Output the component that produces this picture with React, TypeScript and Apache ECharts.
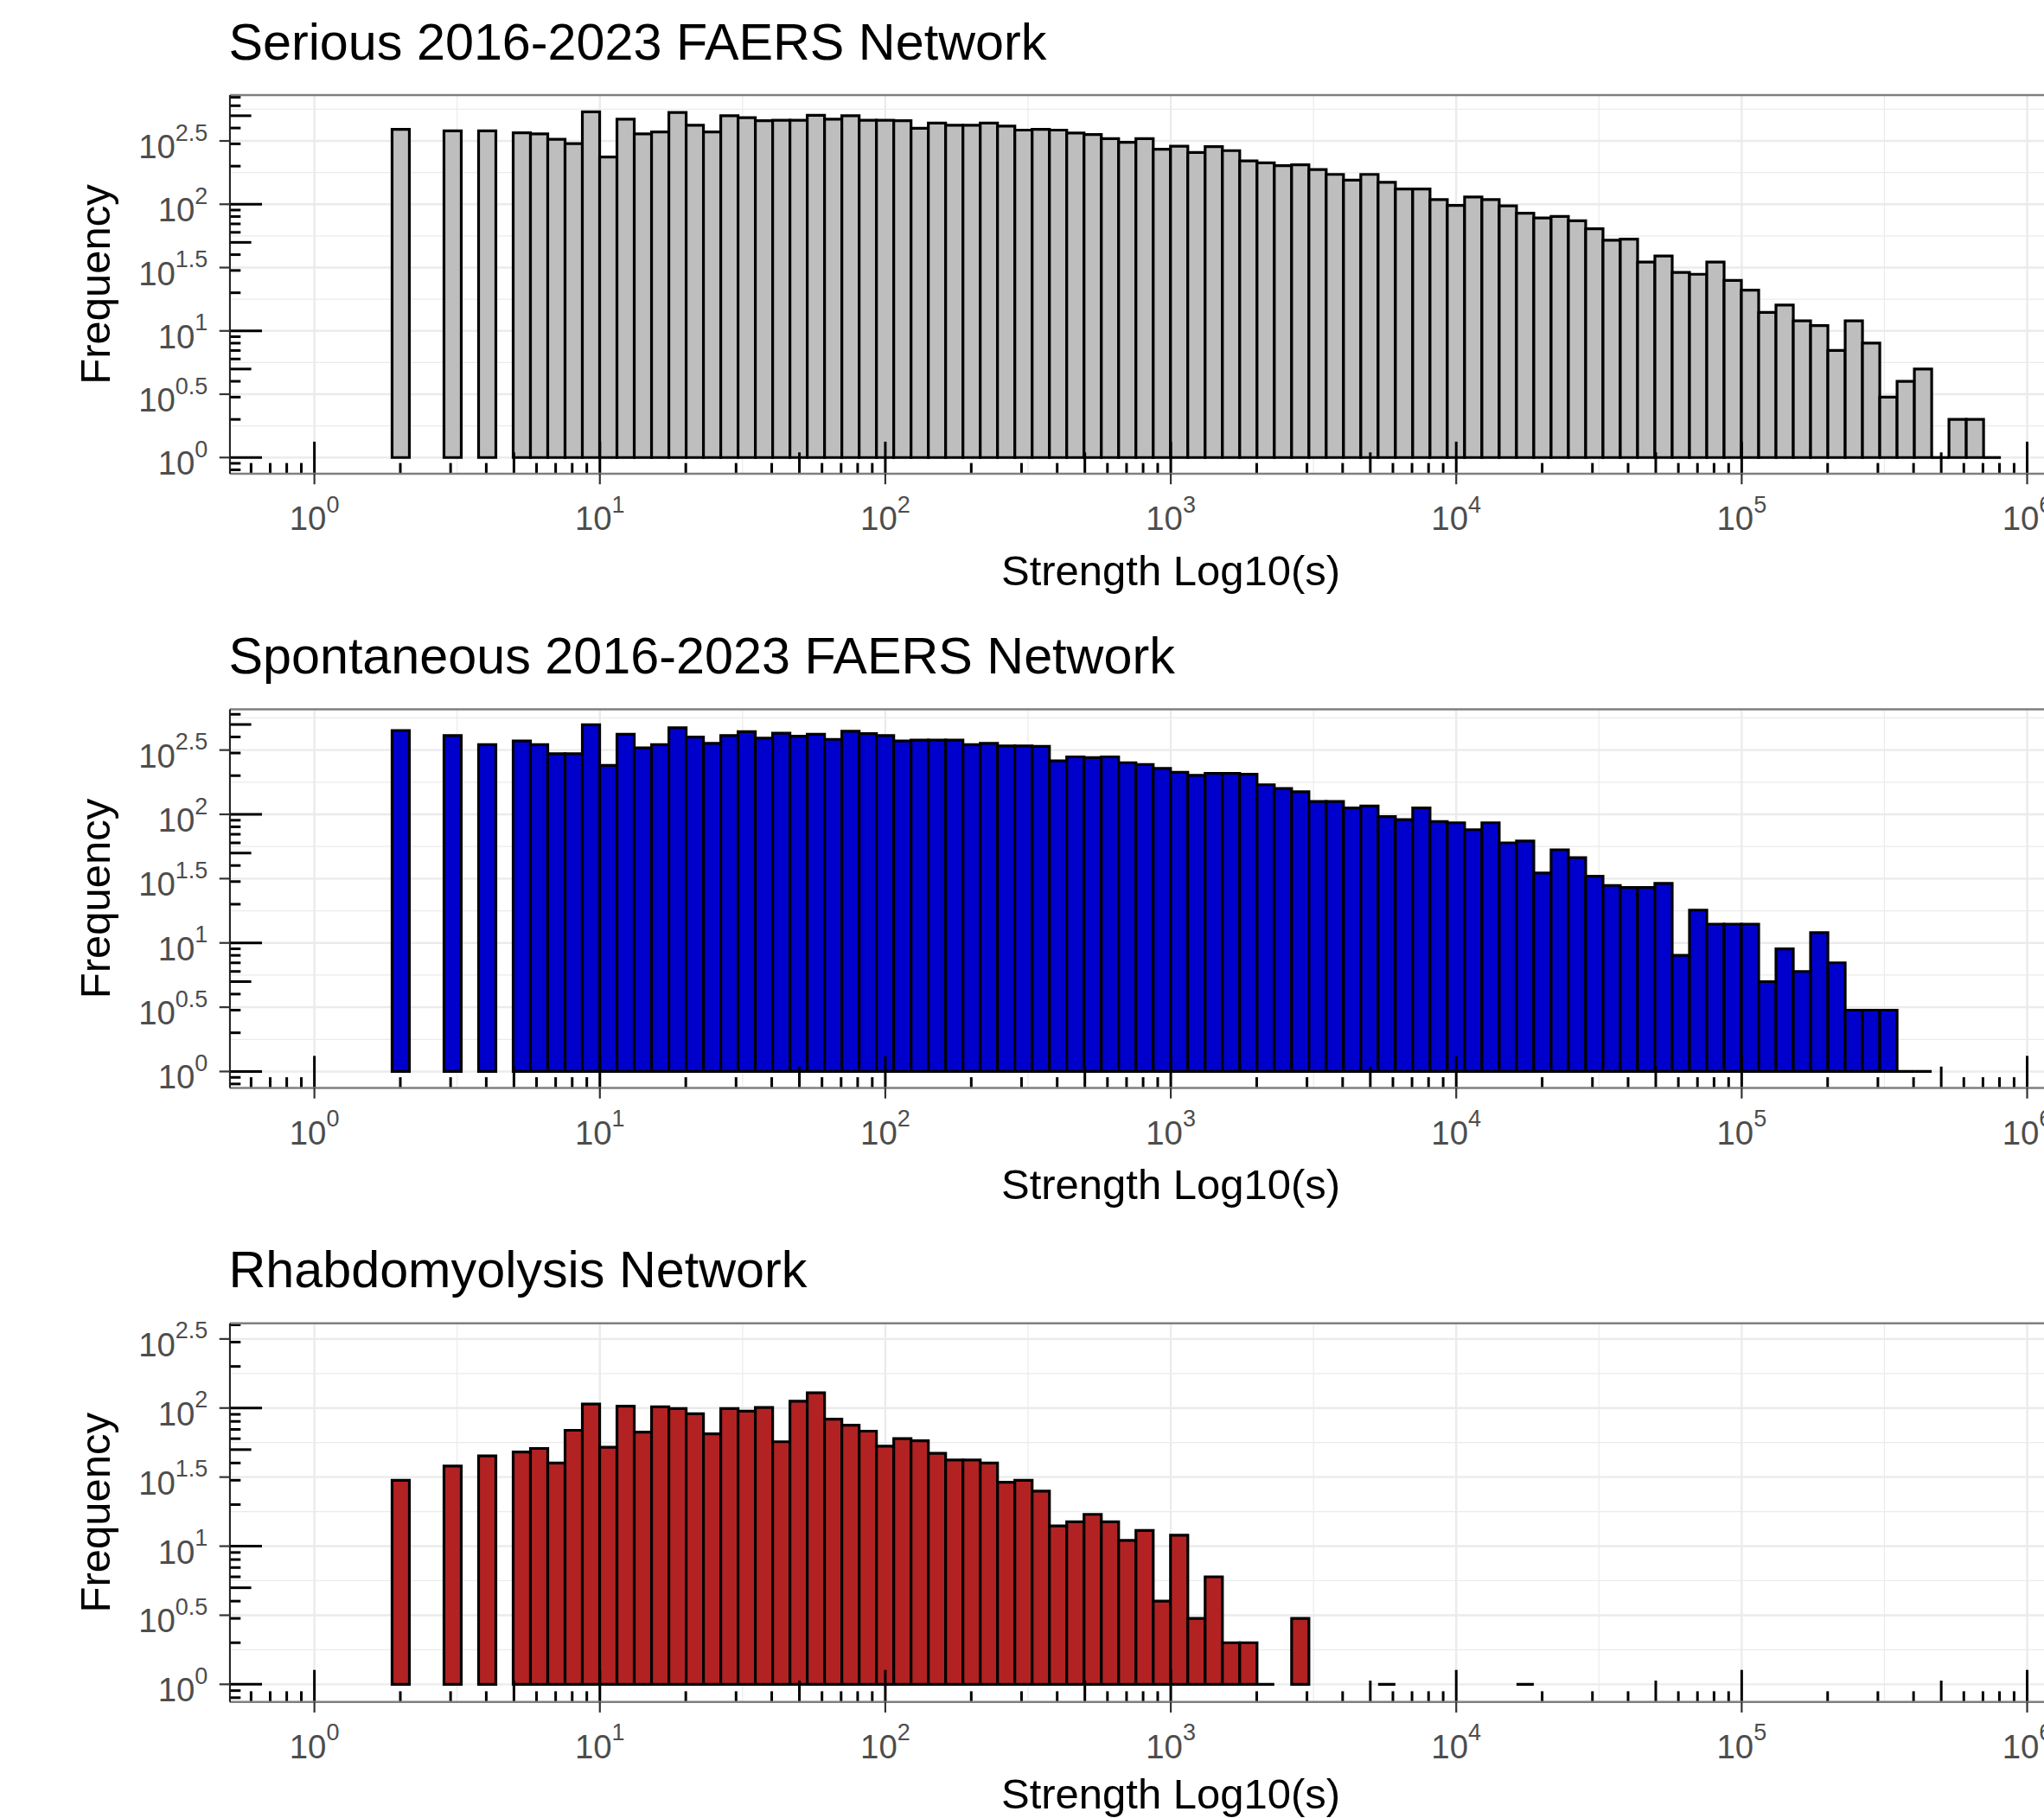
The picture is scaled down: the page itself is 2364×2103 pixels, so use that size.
import React, { useEffect, useRef } from "react";
import * as echarts from "echarts";

// ---------------- data ----------------
const panelTitles = [
  "Serious 2016-2023 FAERS Network",
  "Spontaneous 2016-2023 FAERS Network",
  "Rhabdomyolysis Network",
];
const barFills = ["#BEBEBE", "#0000CD", "#B22222"];
const xAxisTitle = "Strength Log10(s)";
const yAxisTitle = "Frequency";
const xTickExponents = ["0", "1", "2", "3", "4", "5", "6"];
const yTickExponents = ["0", "0.5", "1", "1.5", "2", "2.5"];

// histogram bins on log10(strength): first bin centred on log10(2)
const binCenterStart = 0.3024;
const binWidth = 0.0606;

// frequency per bin (null = empty bin)
const seriousCounts: (number | null)[] = [
  391, null, null, 380, null, 380, null, 367, 360, 326,
  301, 537, 236, 470, 360, 372, 530, 420, 372, 500,
  483, 457, 460, 460, 504, 470, 500, 460, 460, 457,
  398, 438, 420, 420, 438, 414, 385, 391, 385, 365,
  355, 330, 308, 330, 272, 287, 256, 285, 265, 220,
  212, 202, 205, 188, 172, 155, 172, 149, 132, 132,
  109, 98, 114, 109, 97, 85, 78, 80, 74, 64,
  52, 53, 35, 39, 29, 28, 35, 25, 21, 14,
  16, 12, 11, 7, 12, 8, 3, 4, 5, 1,
  2, 2, 1,
];
const spontaneousCounts: (number | null)[] = [
  449, null, null, 410, null, 348, null, 372, 348, 296,
  296, 498, 240, 419, 329, 348, 471, 399, 357, 410,
  440, 391, 428, 405, 419, 383, 443, 425, 410, 372,
  378, 378, 378, 348, 357, 340, 340, 338, 261, 280,
  276, 280, 252, 244, 228, 212, 201, 208, 208, 205,
  170, 159, 150, 126, 126, 112, 116, 96, 91, 112,
  88, 86, 76, 86, 60, 62, 35, 53, 46, 33,
  28, 27, 27, 29, 8, 18, 14, 14, 14, 5,
  9, 6, 12, 7, 3, 3, 3, 1, 1,
];
const rhabdoCounts: (number | null)[] = [
  30, null, null, 38, null, 45, null, 48, 51, 40,
  69, 107, 52, 103, 67, 102, 99, 91, 65, 99,
  95, 101, 57, 112, 129, 83, 75, 68, 53, 60,
  58, 47, 42, 42, 40, 29, 30, 25, 14, 15,
  17, 15, 11, 13, 4, 12, 3, 6, 2, 2,
  1, null, 3, null, null, null, null, 1, null, null,
  null, null, null, null, null, 1,
];
const panelCounts = [seriousCounts, spontaneousCounts, rhabdoCounts];

// axis limits (log10 units); the panel runs past the right edge of the picture
const xLimits = [-0.296, 6.059];
const yLimits = [
  [-0.128, 2.862],
  [-0.128, 2.817],
  [-0.128, 2.613],
];

// ---------------- layout / style ----------------
const CW = 2364;
const CH = 2103;
const PANEL_LEFT = 265.9;
const PANEL_WIDTH = CW - PANEL_LEFT;
const PANEL_TOPS = [110, 820.5, 1530.8];
const PANEL_HEIGHT = 438;
const AXIS_TITLE_OFFSETS = [111.5, 111.5, 106];
const FONT = '"Liberation Sans", Arial, Helvetica, sans-serif';
const LABEL_GRAY = "#4D4D4D";
const GRID_COLOR = "#EBEBEB";

const richLabel = {
  b: {
    fontSize: 38.4,
    fontFamily: FONT,
    fill: LABEL_GRAY,
    color: LABEL_GRAY,
    lineHeight: 38.4,
    padding: [10.5, 0, 0, 0],
    verticalAlign: "top",
  },
  s: {
    fontSize: 27,
    fontFamily: FONT,
    fill: LABEL_GRAY,
    color: LABEL_GRAY,
    lineHeight: 27,
    verticalAlign: "top",
  },
};

function inRange(v: number, r: number[]) {
  return v >= r[0] - 1e-9 && v <= r[1] + 1e-9;
}

function buildPanelSeries(p: number): any[] {
  const yl = yLimits[p];
  const fill = barFills[p];

  // grid lines: [x, y, orientation(0 vertical / 1 horizontal), major]
  const gridData: number[][] = [];
  for (let v = Math.ceil(xLimits[0] * 2) / 2; v <= xLimits[1]; v += 0.5) {
    gridData.push([v, 0, 0, Math.abs(v - Math.round(v)) < 1e-9 ? 1 : 0]);
  }
  for (let v = Math.ceil(yl[0] * 4) / 4; v <= yl[1]; v += 0.25) {
    const major = Math.abs(v * 2 - Math.round(v * 2)) < 1e-9 ? 1 : 0;
    gridData.push([0, v, 1, major]);
  }

  // bars
  const barData: number[][] = [];
  panelCounts[p].forEach((c, j) => {
    if (c == null) return;
    barData.push([binCenterStart + j * binWidth, Math.log10(c), c]);
  });

  // log ticks (annotation_logticks style)
  const logData: number[][] = [];
  for (let n = -1; n <= 6; n++) {
    for (let k = 1; k <= 9; k++) {
      const v = n + Math.log10(k);
      const cls = k === 1 ? 2 : k === 5 ? 1 : 0;
      if (inRange(v, xLimits) && v > xLimits[0]) logData.push([v, 0, 0, cls]);
      if (inRange(v, yl) && v > yl[0]) logData.push([0, v, 1, cls]);
    }
  }

  const xTickData = xTickExponents.map((e, i) => [parseFloat(e), 0, i]);
  const yTickData = yTickExponents.map((e, i) => [0, parseFloat(e), i]);

  const common = {
    type: "custom",
    coordinateSystem: "cartesian2d",
    xAxisIndex: p,
    yAxisIndex: p,
    silent: true,
    animation: false,
  };

  return [
    {
      ...common,
      name: "grid" + p,
      z: 1,
      clip: true,
      data: gridData,
      renderItem: (params: any, api: any) => {
        const cs = params.coordSys;
        const o = api.value(2);
        const major = api.value(3);
        const style = { stroke: GRID_COLOR, lineWidth: major ? 2.4 : 1.2 };
        if (o === 0) {
          const x = api.coord([api.value(0), 0])[0];
          return { type: "line", shape: { x1: x, y1: cs.y, x2: x, y2: cs.y + cs.height }, style };
        }
        const y = api.coord([0, api.value(1)])[1];
        return { type: "line", shape: { x1: cs.x, y1: y, x2: cs.x + cs.width, y2: y }, style };
      },
    },
    {
      ...common,
      name: panelTitles[p],
      z: 2,
      clip: true,
      data: barData,
      renderItem: (params: any, api: any) => {
        const c = api.value(0);
        const L = api.value(1);
        const a = api.coord([c - binWidth / 2, 0]);
        const b = api.coord([c + binWidth / 2, L]);
        if (L <= 1e-9) {
          return {
            type: "line",
            shape: { x1: a[0], y1: a[1], x2: b[0], y2: a[1] },
            style: { stroke: "#000", lineWidth: 3.2 },
          };
        }
        return {
          type: "rect",
          shape: { x: a[0], y: b[1], width: b[0] - a[0], height: a[1] - b[1] },
          style: { fill, stroke: "#000", lineWidth: 3.2, lineJoin: "miter" },
        };
      },
    },
    {
      ...common,
      name: "logticks" + p,
      z: 3,
      clip: false,
      data: logData,
      renderItem: (params: any, api: any) => {
        const cs = params.coordSys;
        const lens = [12.4, 24.7, 37.1];
        const len = lens[api.value(3)];
        const style = { stroke: "#000", lineWidth: 3 };
        if (api.value(2) === 0) {
          const x = api.coord([api.value(0), 0])[0];
          const yb = cs.y + cs.height;
          return { type: "line", shape: { x1: x, y1: yb, x2: x, y2: yb - len }, style };
        }
        const y = api.coord([0, api.value(1)])[1];
        return { type: "line", shape: { x1: cs.x, y1: y, x2: cs.x + len, y2: y }, style };
      },
    },
    {
      ...common,
      name: "frame" + p,
      z: 4,
      clip: false,
      data: [[0, 0]],
      renderItem: (params: any) => {
        const cs = params.coordSys;
        return {
          type: "group",
          children: [
            {
              type: "line",
              shape: { x1: cs.x, y1: cs.y, x2: cs.x + cs.width, y2: cs.y },
              style: { stroke: "#7F7F7F", lineWidth: 2.6 },
            },
            {
              type: "line",
              shape: { x1: cs.x, y1: cs.y + cs.height, x2: cs.x + cs.width, y2: cs.y + cs.height },
              style: { stroke: "#7F7F7F", lineWidth: 2.6 },
            },
            {
              type: "line",
              shape: { x1: cs.x, y1: cs.y, x2: cs.x, y2: cs.y + cs.height },
              style: { stroke: "#1A1A1A", lineWidth: 2 },
            },
          ],
        };
      },
    },
    {
      ...common,
      name: "xlabels" + p,
      z: 5,
      clip: false,
      data: xTickData,
      renderItem: (params: any, api: any) => {
        const cs = params.coordSys;
        const x = api.coord([api.value(0), 0])[0];
        const yb = cs.y + cs.height;
        const label = xTickExponents[params.dataIndex];
        return {
          type: "group",
          children: [
            {
              type: "line",
              shape: { x1: x, y1: yb, x2: x, y2: yb + 12.2 },
              style: { stroke: "#333333", lineWidth: 2.2 },
            },
            {
              type: "text",
              x,
              y: yb + 22,
              style: {
                text: `{b|10}{s|${label}}`,
                rich: richLabel,
                align: "center",
                verticalAlign: "top",
              },
            },
          ],
        };
      },
    },
    {
      ...common,
      name: "ylabels" + p,
      z: 5,
      clip: false,
      data: yTickData,
      renderItem: (params: any, api: any) => {
        const cs = params.coordSys;
        const y = api.coord([0, api.value(1)])[1];
        const label = yTickExponents[params.dataIndex];
        return {
          type: "group",
          children: [
            {
              type: "line",
              shape: { x1: cs.x - 12.2, y1: y, x2: cs.x, y2: y },
              style: { stroke: "#333333", lineWidth: 2.2 },
            },
            {
              type: "text",
              x: cs.x - 25.5,
              y: y - 23,
              style: {
                text: `{b|10}{s|${label}}`,
                rich: richLabel,
                align: "right",
                verticalAlign: "top",
              },
            },
          ],
        };
      },
    },
  ];
}

function buildOption(): any {
  const pxPerX = PANEL_WIDTH / (xLimits[1] - xLimits[0]);
  const grids = PANEL_TOPS.map((top) => ({
    left: PANEL_LEFT,
    top,
    width: PANEL_WIDTH,
    height: PANEL_HEIGHT,
    containLabel: false,
  }));
  const xAxes = PANEL_TOPS.map((_, p) => ({
    type: "value",
    gridIndex: p,
    min: xLimits[0],
    max: xLimits[1],
    show: false,
  }));
  const yAxes = PANEL_TOPS.map((_, p) => ({
    type: "value",
    gridIndex: p,
    min: yLimits[p][0],
    max: yLimits[p][1],
    show: false,
  }));
  const series: any[] = [];
  PANEL_TOPS.forEach((_, p) => series.push(...buildPanelSeries(p)));

  const graphics: any[] = [];
  PANEL_TOPS.forEach((top, p) => {
    graphics.push({
      type: "text",
      x: PANEL_LEFT - 1.5,
      y: top - 62,
      style: {
        text: panelTitles[p],
        font: `59.3px ${FONT}`,
        fill: "#000",
        align: "left",
        verticalAlign: "middle",
      },
    });
    graphics.push({
      type: "text",
      x: PANEL_LEFT + (3 - xLimits[0]) * pxPerX,
      y: top + PANEL_HEIGHT + AXIS_TITLE_OFFSETS[p],
      style: {
        text: xAxisTitle,
        font: `49px ${FONT}`,
        fill: "#000",
        align: "center",
        verticalAlign: "middle",
      },
    });
    graphics.push({
      type: "text",
      x: 109.5,
      y: top + PANEL_HEIGHT / 2,
      rotation: Math.PI / 2,
      style: {
        text: yAxisTitle,
        font: `49px ${FONT}`,
        fill: "#000",
        align: "center",
        verticalAlign: "middle",
      },
    });
  });

  return {
    animation: false,
    backgroundColor: "#FFFFFF",
    grid: grids,
    xAxis: xAxes,
    yAxis: yAxes,
    series,
    graphic: graphics,
  };
}

export default function App() {
  const ref = useRef<HTMLDivElement>(null);
  useEffect(() => {
    if (!ref.current) return;
    const chart = echarts.init(ref.current, undefined, { renderer: "svg", width: CW, height: CH });
    chart.setOption(buildOption());
    return () => chart.dispose();
  }, []);
  return (
    <div
      ref={ref}
      style={{ position: "absolute", left: 0, top: 0, width: CW, height: CH, overflow: "hidden", background: "#fff" }}
    />
  );
}
